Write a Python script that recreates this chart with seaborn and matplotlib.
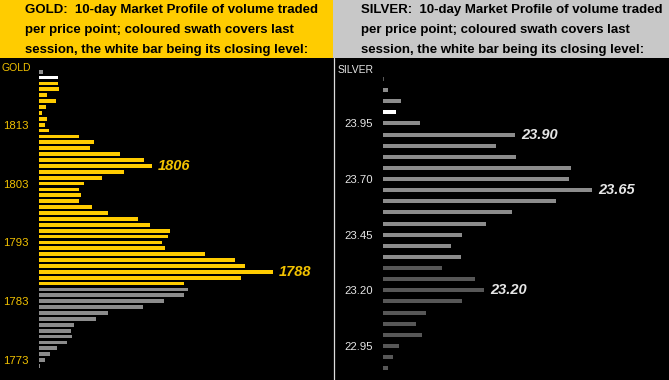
import numpy as np
import pandas as pd
import matplotlib
matplotlib.use('Agg')
import matplotlib.pyplot as plt
from matplotlib.patches import Rectangle
import seaborn as sns

# Gold: price levels (top to bottom) and volume traded at each
gold_prices = list(range(1822, 1771, -1))
gold_volume = [4, 19, 19, 20, 8, 17, 7, 3, 8, 6,
               10, 40, 55, 51, 81, 105, 113, 85, 63, 45,
               40, 42, 40, 53, 69, 99, 111, 131, 129, 123,
               126, 166, 196, 206, 234, 202, 145, 149, 145, 125,
               104, 69, 57, 35, 32, 33, 28, 18, 11, 6, 1]
gold_session = (1786, 1820)   # last session's swath
gold_close = 1821
gold_ticks = [1773, 1783, 1793, 1803, 1813]
gold_callouts = [1806, 1788]

# Silver
silver_prices = [24.15, 24.10, 24.05, 24.00, 23.95, 23.90, 23.85, 23.80, 23.75, 23.70,
                 23.65, 23.60, 23.55, 23.50, 23.45, 23.40, 23.35, 23.30, 23.25, 23.20,
                 23.15, 23.10, 23.05, 23.00, 22.95, 22.90, 22.85]
silver_volume = [1, 5, 18, 13, 37, 132, 113, 133, 188, 186,
                 209, 173, 129, 103, 79, 68, 78, 59, 92, 101,
                 79, 43, 33, 39, 16, 10, 5]
silver_session = (23.35, 24.10)
silver_close = 24.00
silver_ticks = [22.95, 23.20, 23.45, 23.70, 23.95]
silver_callouts = [23.90, 23.65, 23.20]

W, H = 669, 380
GOLD_C = '#FFCC00'
GOLD_TXT = '#F2C200'
SILVER_TXT = '#E6E6E6'

sns.set_theme(style='dark', rc={'axes.facecolor': 'black', 'figure.facecolor': 'black'})
plt.rcParams['font.family'] = ['Liberation Sans', 'DejaVu Sans']


def session_tag(p, lo, hi, close):
    if np.isclose(p, close):
        return 'close'
    if lo - 1e-9 <= p <= hi + 1e-9:
        return 'swath'
    return 'other'


gold_df = pd.DataFrame({'price': gold_prices, 'volume': gold_volume})
gold_df['tag'] = [session_tag(p, *gold_session, gold_close) for p in gold_prices]
silver_df = pd.DataFrame({'price': silver_prices, 'volume': silver_volume})
silver_df['tag'] = [session_tag(p, *silver_session, silver_close) for p in silver_prices]

fig = plt.figure(figsize=(W / 100, H / 100), dpi=100)

# header boxes
fig.patches.append(Rectangle((0, 1 - 58 / H), 333 / W, 58 / H, transform=fig.transFigure,
                             facecolor=GOLD_C, edgecolor='none', zorder=0))
fig.patches.append(Rectangle((333 / W, 1 - 58 / H), 1 - 333 / W, 58 / H, transform=fig.transFigure,
                             facecolor='#C8C8C8', edgecolor='none', zorder=0))
fig.add_artist(plt.Line2D([333.5 / W, 333.5 / W], [0, 1 - 58 / H], transform=fig.transFigure,
                          color='#DDDDDD', lw=0.9))

head_lines = ['{}:  10-day Market Profile of volume traded',
              'per price point; coloured swath covers last',
              'session, the white bar being its closing level:']
for x0, name in [(25, 'GOLD'), (361, 'SILVER')]:
    for i, line in enumerate(head_lines):
        fig.text(x0 / W, 1 - (10.5 + 19.5 * i) / H, line.format(name), fontsize=9.5,
                 fontweight='bold', color='black', va='center', ha='left')

# axes: y from px 60 to 380
ax_h = 320 / H
ax_g = fig.add_axes([39 / W, 0, (333 - 39) / W, ax_h])
ax_s = fig.add_axes([383.3 / W, 0, (W - 383.3) / W, ax_h])

sns.barplot(data=gold_df, x='volume', y='price', hue='tag', orient='h', native_scale=True,
            dodge=False, width=0.64, saturation=1, errorbar=None, legend=False,
            palette={'swath': GOLD_C, 'close': 'white', 'other': '#8C8C8C'},
            linewidth=0, ax=ax_g)
sns.barplot(data=silver_df, x='volume', y='price', hue='tag', orient='h', native_scale=True,
            dodge=False, width=0.36, saturation=1, errorbar=None, legend=False,
            palette={'swath': '#8C8C8C', 'close': 'white', 'other': '#575757'},
            linewidth=0, ax=ax_s)

ax_g.set_xlim(0, 294)
ax_g.set_ylim(1769.62, 1823.99)
ax_s.set_xlim(0, W - 383.3)
ax_s.set_ylim(22.797, 24.235)

for ax, ticks, fmt, col in [(ax_g, gold_ticks, '{:d}', GOLD_TXT),
                            (ax_s, silver_ticks, '{:.2f}', SILVER_TXT)]:
    ax.set_yticks(ticks)
    ax.set_yticklabels([fmt.format(t) for t in ticks])
    ax.tick_params(axis='y', length=0, pad=7.5, labelsize=8.2, labelcolor=col)
    ax.set_xticks([])
    ax.set_xlabel('')
    ax.set_ylabel('')
    ax.grid(False)
    for s in ax.spines.values():
        s.set_visible(False)

for p in gold_callouts:
    v = gold_df.loc[gold_df['price'] == p, 'volume'].iloc[0]
    ax_g.annotate(str(p), (v, p), xytext=(4, 0), textcoords='offset points', va='center',
                  ha='left', fontsize=10.5, fontweight='bold', fontstyle='italic', color=GOLD_TXT)
for p in silver_callouts:
    v = silver_df.loc[np.isclose(silver_df['price'], p), 'volume'].iloc[0]
    ax_s.annotate(f'{p:.2f}', (v, p), xytext=(4, 0), textcoords='offset points', va='center',
                  ha='left', fontsize=10.5, fontweight='bold', fontstyle='italic', color=SILVER_TXT)

fig.text(2 / W, 1 - 68 / H, 'GOLD', fontsize=7.5, color=GOLD_TXT, va='center', ha='left')
fig.text(338 / W, 1 - 70 / H, 'SILVER', fontsize=7.5, color=SILVER_TXT, va='center', ha='left')

fig.savefig('out.png', dpi=100, facecolor='black')
